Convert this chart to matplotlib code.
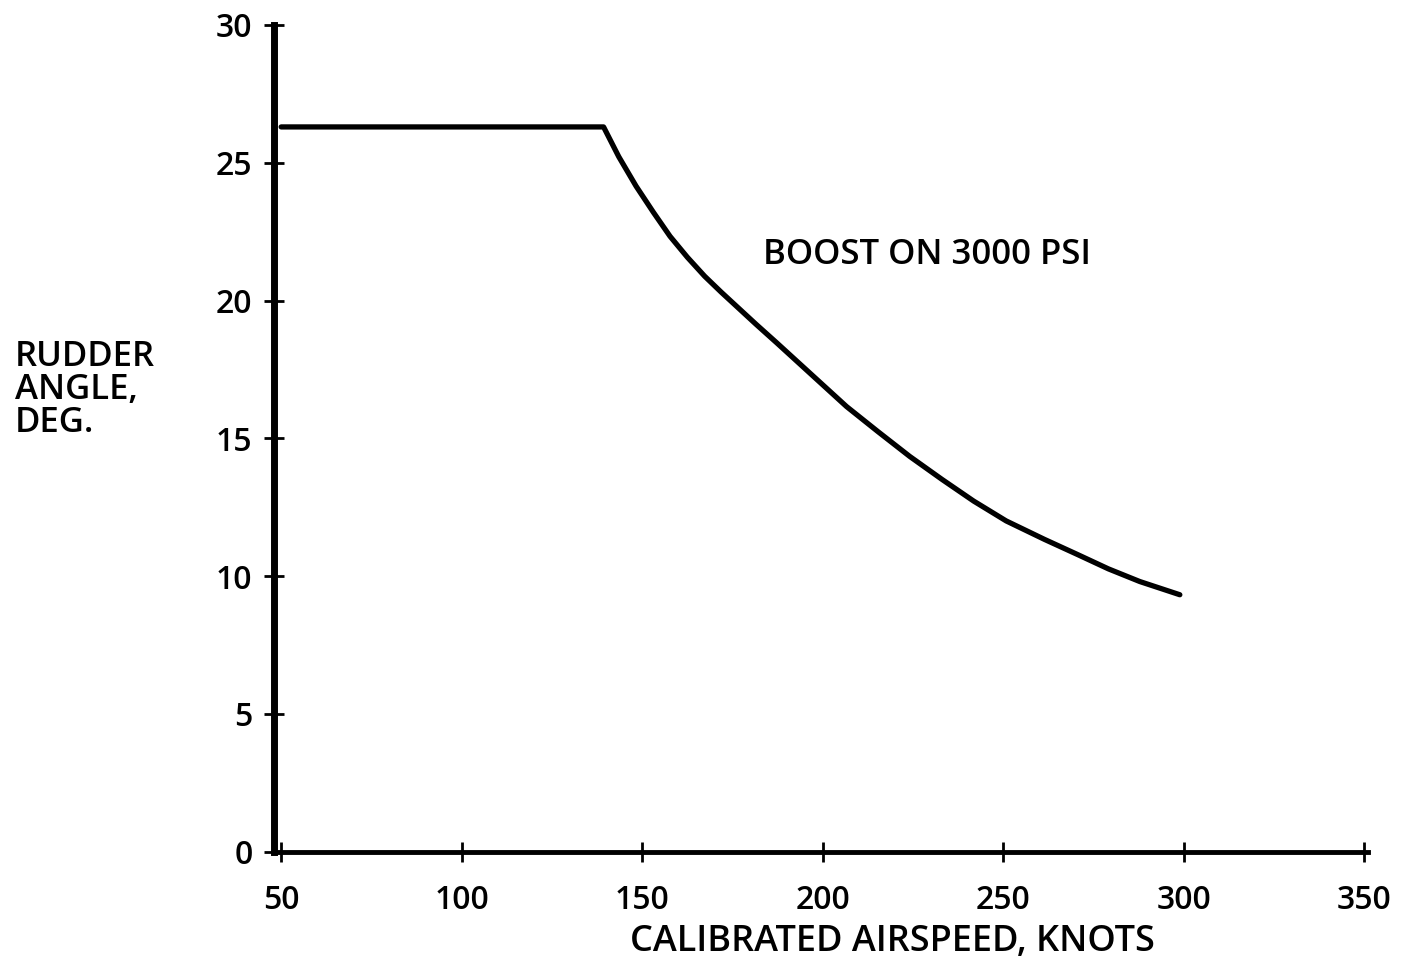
import matplotlib
matplotlib.use('Agg')
import matplotlib.pyplot as plt

# rudder limit vs calibrated airspeed
airspeed = [50, 139.3, 143.5, 148.3, 153.1, 157.7, 162.5, 167.3, 171.9, 176.7, 181.5, 187.2,
            197.4, 206.6, 215.3, 224.1, 233.1, 241.8, 250.8, 261.4, 270.4, 279.1, 287.8, 298.9]
rudder = [26.3, 26.3, 25.22, 24.15, 23.20, 22.33, 21.57, 20.88, 20.30, 19.72, 19.14, 18.47,
          17.25, 16.15, 15.24, 14.34, 13.50, 12.72, 12.00, 11.33, 10.79, 10.26, 9.80, 9.32]
x_ticks = [50, 100, 150, 200, 250, 300, 350]
y_ticks = [0, 5, 10, 15, 20, 25, 30]

plt.rcParams['font.family'] = ['Open Sans', 'DejaVu Sans']
plt.rcParams['font.weight'] = 'semibold'

fig = plt.figure(figsize=(14.02, 9.65), dpi=100)
ax = fig.add_axes([0.1954, 0.1176, 0.7803, 0.8565])

ax.plot(airspeed, rudder, color='black', linewidth=3.8,
        solid_capstyle='round', solid_joinstyle='round')

ax.set_xlim(48, 351)
ax.set_ylim(0, 30)
ax.set_xticks(x_ticks)
ax.set_yticks(y_ticks)

for side in ['top', 'right']:
    ax.spines[side].set_visible(False)
ax.spines['left'].set_linewidth(5)
ax.spines['bottom'].set_linewidth(3.5)

ax.tick_params(axis='y', direction='inout', length=15, width=2, pad=8, labelsize=23)
ax.tick_params(axis='x', direction='inout', length=15, width=2, pad=16, labelsize=23)

fig.text(892 / 1402, 1 - 942 / 965, 'CALIBRATED AIRSPEED, KNOTS', ha='center', va='center',
         fontsize=26, fontweight='semibold')
fig.text(15 / 1402, 1 - 390 / 965, 'RUDDER\nANGLE,\nDEG.', ha='left', va='center',
         fontsize=25, fontweight='semibold', linespacing=0.95)
fig.text(763 / 1402, 1 - 255 / 965, 'BOOST ON 3000 PSI', ha='left', va='center',
         fontsize=25, fontweight='semibold')

fig.savefig('out.png', dpi=100)
